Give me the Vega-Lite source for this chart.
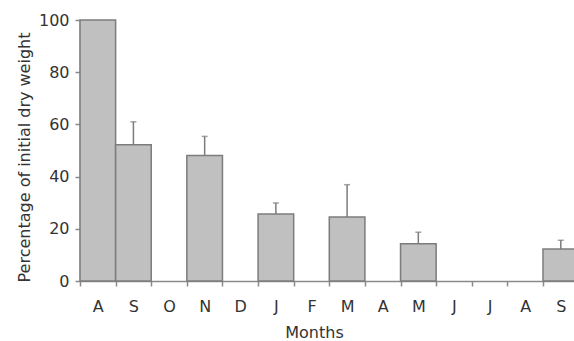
{
  "$schema": "https://vega.github.io/schema/vega-lite/v6.json",
  "autosize": "none",
  "width": 494,
  "height": 261,
  "padding": {"left": 80, "top": 20, "right": 0, "bottom": 60},
  "background": "white",
  "config": {
    "view": {"stroke": null},
    "axis": {
      "labelFont": "DejaVu Sans",
      "titleFont": "DejaVu Sans",
      "labelFontSize": 16,
      "titleFontSize": 16,
      "titleFontWeight": "normal",
      "labelColor": "#333333",
      "titleColor": "#333333",
      "domainColor": "#8a8a8a",
      "tickColor": "#8a8a8a",
      "domainWidth": 1.5,
      "tickWidth": 1.5,
      "tickSize": 5,
      "grid": false
    }
  },
  "data": {
    "values": [
      {"month": "A1", "pct": 100, "high": 100},
      {"month": "S1", "pct": 52.2, "high": 61.0},
      {"month": "N", "pct": 48.1, "high": 55.4},
      {"month": "J1", "pct": 25.7, "high": 29.9},
      {"month": "M1", "pct": 24.5, "high": 36.9},
      {"month": "M2", "pct": 14.3, "high": 18.7},
      {"month": "S2", "pct": 12.3, "high": 15.6}
    ]
  },
  "layer": [
    {
      "mark": {"type": "bar", "fill": "#c0c0c0", "stroke": "#7c7c7c", "strokeWidth": 1.5},
      "encoding": {
        "x": {
          "field": "month",
          "type": "nominal",
          "sort": null,
          "scale": {
            "domain": ["A1", "S1", "O", "N", "D", "J1", "F", "M1", "A2", "M2", "J2", "J3", "A3", "S2"],
            "range": [0, 498.6],
            "paddingInner": 0,
            "paddingOuter": 0
          },
          "axis": {
            "title": "Months",
            "labelAngle": 0,
            "labelExpr": "isString(datum.value) ? slice(datum.value, 0, 1) : ''",
            "tickBand": "extent",
            "labelPadding": 12,
            "titlePadding": 10,
            "titleX": 234
          }
        },
        "y": {
          "field": "pct",
          "type": "quantitative",
          "scale": {"domain": [0, 100]},
          "axis": {
            "title": "Percentage of initial dry weight",
            "values": [0, 20, 40, 60, 80, 100],
            "labelPadding": 6,
            "titlePadding": 6,
            "titleY": 137
          }
        }
      }
    },
    {
      "transform": [{"filter": "datum.high > datum.pct"}],
      "mark": {"type": "rule", "stroke": "#7c7c7c", "strokeWidth": 1.5},
      "encoding": {
        "x": {"field": "month", "type": "nominal", "sort": null},
        "y": {"field": "pct", "type": "quantitative"},
        "y2": {"field": "high"}
      }
    },
    {
      "transform": [{"filter": "datum.high > datum.pct"}],
      "mark": {"type": "tick", "color": "#7c7c7c", "size": 6, "thickness": 1.5},
      "encoding": {
        "x": {"field": "month", "type": "nominal", "sort": null},
        "y": {"field": "high", "type": "quantitative"}
      }
    }
  ]
}
